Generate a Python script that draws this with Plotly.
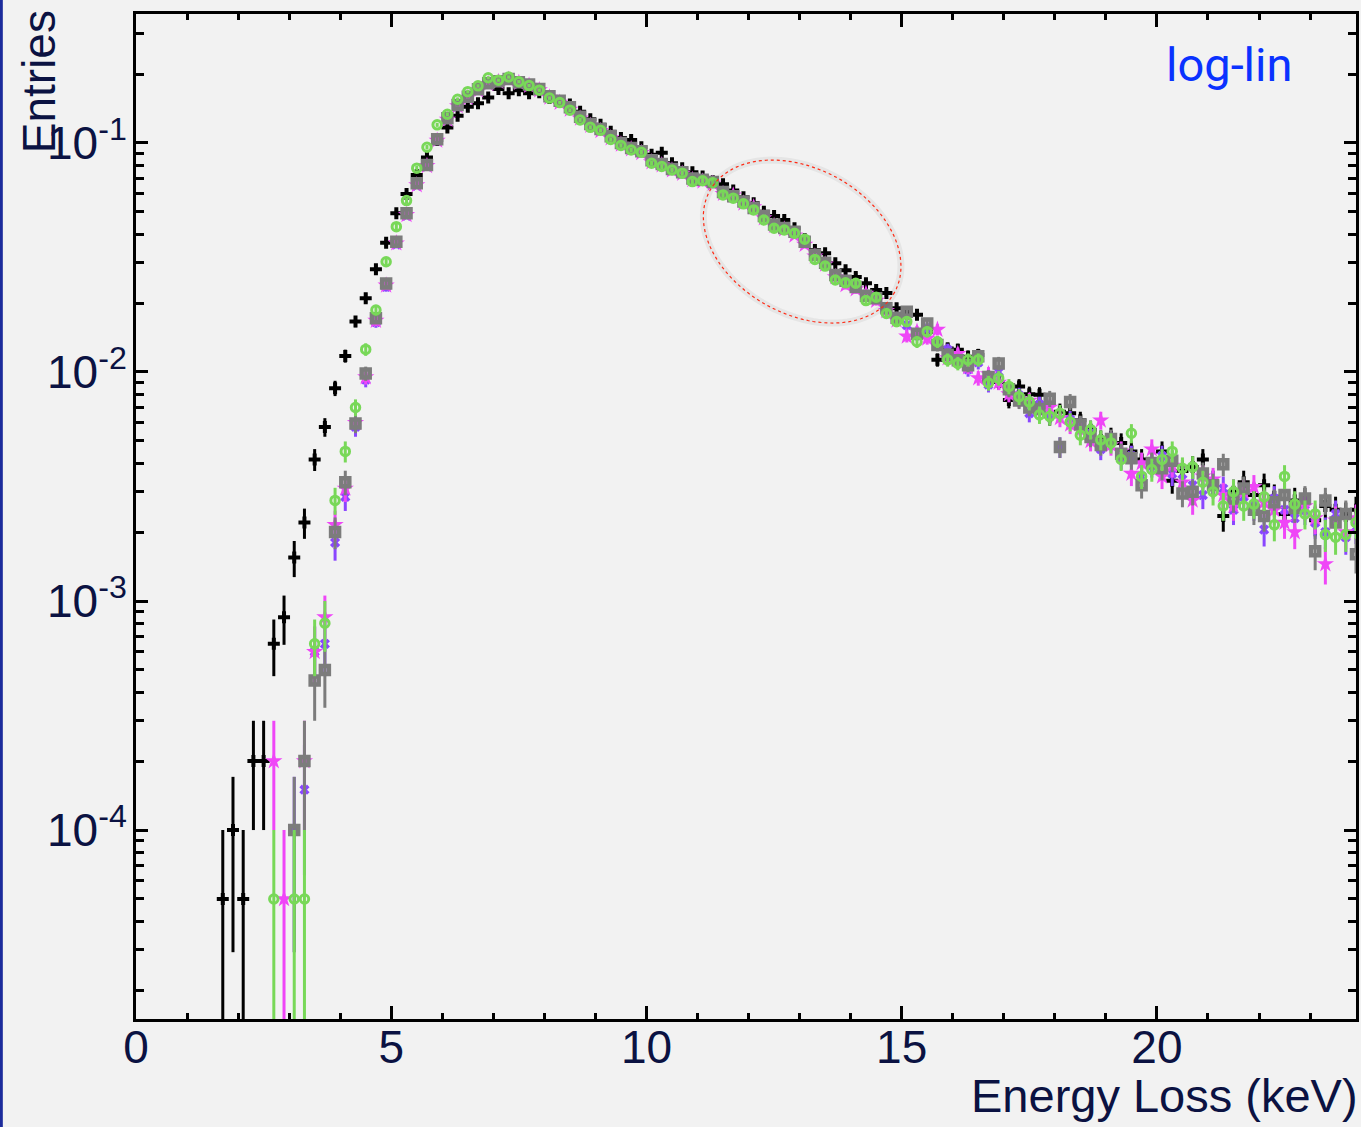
import numpy as np
import plotly.graph_objects as go

# ---------------------------------------------------------------------------
# Energy-loss spectra: 0.2 keV bins, bin centres 1.7 ... 23.9 keV
# counts per bin; one entry corresponds to a normalised weight of 5e-5
# ---------------------------------------------------------------------------
energy = np.round(np.arange(1.7, 24.0, 0.2), 2)
entry_weight = 5e-5

counts_black = [
    1, 2, 1, 4, 4,
    13, 17, 31, 44, 83,
    115, 170, 235, 332, 420,
    562, 734, 986, 1196, 1450,
    1728, 2060, 2334, 2630, 2880,
    2980, 3160, 3440, 3300, 3400,
    3300, 3330, 3140, 3020, 2940,
    2740, 2540, 2400, 2240, 2100,
    2060, 1916, 1774, 1814, 1630,
    1552, 1490, 1426, 1360, 1320,
    1240, 1160, 1090, 1002, 960,
    922, 848, 760, 682, 660,
    596, 556, 520, 488, 456,
    442, 380, 360, 356, 300,
    226, 253, 250, 233, 237,
    185, 181, 151, 173, 160,
    159, 128, 134, 132, 123,
    112, 101, 104, 98, 90,
    83, 80, 90, 67, 74,
    77, 83, 66, 47, 60,
    66, 58, 64, 57, 48,
    55, 55, 45, 52, 50,
    47, 50,
]

counts_purple = [
    0, 0, 0, 0, 0,
    0, 0, 2, 3, 12,
    13, 36, 57, 115, 185,
    330, 470, 720, 960, 1300,
    1580, 2040, 2520, 2880, 3160,
    3420, 3640, 3710, 3790, 3670,
    3580, 3420, 3180, 3020, 2820,
    2580, 2400, 2280, 2120, 1990,
    1890, 1820, 1660, 1610, 1530,
    1480, 1390, 1370, 1340, 1210,
    1160, 1100, 1030, 950, 870,
    845, 810, 730, 645, 595,
    525, 490, 465, 435, 415,
    375, 340, 320, 290, 310,
    270, 250, 222, 205, 220,
    176, 200, 164, 158, 132,
    144, 130, 94, 124, 116,
    108, 92, 100, 84, 86,
    70, 78, 86, 72, 68,
    64, 58, 66, 62, 50,
    57, 52, 41, 56, 50,
    46, 50, 44, 40, 48,
    38, 42,
]

counts_magenta = [
    0, 0, 0, 0, 0,
    4, 1, 0, 4, 12,
    17, 43, 62, 120, 190,
    335, 478, 730, 970, 1310,
    1590, 2050, 2530, 2900, 3150,
    3400, 3620, 3700, 3780, 3660,
    3560, 3400, 3160, 3000, 2800,
    2560, 2380, 2260, 2100, 1970,
    1880, 1810, 1650, 1600, 1520,
    1470, 1380, 1360, 1330, 1200,
    1180, 1090, 1050, 940, 870,
    840, 790, 720, 640, 590,
    520, 480, 460, 440, 410,
    370, 336, 286, 300, 280,
    306, 230, 240, 210, 188,
    196, 180, 160, 152, 150,
    136, 140, 126, 118, 112,
    100, 123, 96, 90, 72,
    80, 92, 70, 78, 66,
    55, 70, 68, 58, 52,
    60, 63, 54, 50, 44,
    40, 52, 46, 29, 45,
    40, 46,
]

counts_gray = [
    0, 0, 0, 0, 0,
    0, 0, 2, 4, 9,
    10, 40, 66, 119, 197,
    343, 487, 741, 986, 1334,
    1602, 2076, 2564, 2930, 3184,
    3430, 3646, 3720, 3800, 3680,
    3600, 3440, 3200, 3060, 2860,
    2600, 2420, 2300, 2140, 2000,
    1900, 1840, 1680, 1620, 1540,
    1490, 1400, 1380, 1350, 1220,
    1170, 1110, 1040, 960, 880,
    850, 820, 740, 650, 600,
    530, 500, 470, 430, 420,
    380, 345, 366, 294, 326,
    262, 238, 225, 214, 234,
    190, 218, 168, 150, 140,
    138, 153, 94, 148, 118,
    104, 96, 102, 88, 84,
    64, 80, 76, 82, 59,
    60, 72, 64, 79, 56,
    62, 50, 47, 54, 58,
    51, 56, 33, 55, 44,
    48, 32,
]

counts_green = [
    0, 0, 0, 0, 0,
    1, 0, 1, 1, 13,
    16, 55, 90, 140, 251,
    373, 606, 862, 1120, 1552,
    1916, 2400, 2668, 3104, 3350,
    3550, 3850, 3760, 3880, 3700,
    3560, 3400, 3140, 3000, 2780,
    2520, 2340, 2270, 2070, 1950,
    1864, 1820, 1630, 1578, 1524,
    1476, 1356, 1368, 1342, 1186,
    1148, 1084, 1020, 922, 848,
    834, 806, 760, 620, 580,
    504, 490, 488, 410, 424,
    360, 332, 332, 271, 300,
    271, 226, 218, 226, 226,
    179, 188, 173, 156, 148,
    130, 128, 132, 121, 106,
    112, 101, 98, 83, 108,
    70, 75, 83, 90, 76,
    77, 66, 60, 52, 60,
    52, 53, 57, 43, 70,
    53, 48, 48, 39, 38,
    39, 44,
]

x_tick_values = [0, 5, 10, 15, 20]
y_tick_values = [1e-4, 1e-3, 1e-2, 1e-1]
y_tick_text = ["10<sup>-4</sup>", "10<sup>-3</sup>", "10<sup>-2</sup>", "10<sup>-1</sup>"]

x_range = [0, 23.9]
y_log_range = [-4.825, -0.437]


def hist_points(counts):
    """Normalised bin contents with Poisson errors; empty bins are skipped."""
    c = np.asarray(counts, dtype=float)
    keep = c > 0
    y = c[keep] * entry_weight
    err = np.sqrt(c[keep]) * entry_weight
    # a lower error reaching zero runs off the bottom of the log axis
    err_lo = np.minimum(err, y * 0.999999)
    return energy[keep], y, err, err_lo


# drawing order: bottom to top
series = [
    (counts_black, "#000000", dict(symbol="cross", size=10, color="#000000")),
    (counts_purple, "#8a46ff", dict(symbol="x", size=9, color="#8a46ff")),
    (counts_magenta, "#ef46f7", dict(symbol="star", size=13, color="#ef46f7")),
    (counts_gray, "#7c7c7c", dict(symbol="square-open", size=8, color="#7c7c7c",
                                 line=dict(width=4.5, color="#7c7c7c"))),
    (counts_green, "#78d858", dict(symbol="circle-open", size=8.5, color="#78d858",
                                  line=dict(width=3, color="#78d858"))),
]

fig = go.Figure()
for counts, colour, marker in series:
    x, y, err, err_lo = hist_points(counts)
    fig.add_trace(go.Scatter(
        x=x, y=y, mode="markers", marker=marker,
        error_y=dict(type="data", array=err, arrayminus=err_lo, symmetric=False,
                     color=colour, thickness=3, width=0),
        hoverinfo="skip",
    ))

# ---------------------------------------------------------------------------
# highlighted region: rotated ellipse around 12-15 keV
# ---------------------------------------------------------------------------
plot_w_px, plot_h_px = 1223, 1005
ell_e, ell_logy = 13.05, np.log10(0.0371)
ell_a, ell_b, ell_tilt = 105.6, 72.8, np.radians(28.6)

t = np.linspace(0, 2 * np.pi, 121)
dx = ell_a * np.cos(ell_tilt) * np.cos(t) - ell_b * np.sin(ell_tilt) * np.sin(t)
dy_down = ell_a * np.sin(ell_tilt) * np.cos(t) + ell_b * np.cos(ell_tilt) * np.sin(t)
ex = (ell_e - x_range[0]) / (x_range[1] - x_range[0]) + dx / plot_w_px
ey = (ell_logy - y_log_range[0]) / (y_log_range[1] - y_log_range[0]) - dy_down / plot_h_px
ell_path = "M " + " L ".join(f"{a:.5f},{b:.5f}" for a, b in zip(ex, ey)) + " Z"

fig.add_shape(type="path", path=ell_path, xref="paper", yref="paper",
              line=dict(color="rgba(0,0,0,0.05)", width=7), layer="above")
fig.add_shape(type="path", path=ell_path, xref="paper", yref="paper",
              line=dict(color="#ff2a14", width=1.2, dash="dot"), layer="above")

# thin blue border at the left page edge
fig.add_shape(type="line", xref="paper", yref="paper",
              x0=-135 / plot_w_px, x1=-135 / plot_w_px, y0=-0.2, y1=1.1,
              line=dict(color="#1d2c9c", width=3))

text_colour = "#0b1242"
axis_font = "Liberation Sans, Arial, Helvetica, sans-serif"

fig.add_annotation(text="Entries", textangle=-90, showarrow=False,
                   xref="paper", yref="paper", x=-97 / plot_w_px, y=(1005 - 68) / plot_h_px,
                   xanchor="center", yanchor="middle",
                   font=dict(family=axis_font, size=46, color=text_colour))
fig.add_annotation(text="Energy Loss (keV)", showarrow=False,
                   xref="paper", yref="paper", x=1.0035, y=-76 / plot_h_px,
                   xanchor="right", yanchor="middle",
                   font=dict(family=axis_font, size=47, color=text_colour))
fig.add_annotation(text="log-lin", showarrow=False,
                   xref="paper", yref="paper", x=(1232 - 136) / plot_w_px, y=(1019 - 65) / plot_h_px,
                   xanchor="center", yanchor="middle",
                   font=dict(family="Roboto, sans-serif", size=47, color="#0a32ff"))

minor_y = [m * 10.0 ** d for d in range(-5, 0) for m in range(2, 10)]

fig.update_layout(
    width=1361, height=1127,
    margin=dict(l=136, r=2, t=14, b=108),
    paper_bgcolor="#f2f2f2", plot_bgcolor="#f2f2f2",
    showlegend=False,
    font=dict(family=axis_font, size=46, color=text_colour),
)
fig.update_xaxes(
    range=x_range, showgrid=False, zeroline=False,
    showline=True, linecolor="black", linewidth=3, mirror="allticks",
    ticks="inside", ticklen=13, tickwidth=2.5, tickcolor="black",
    tickvals=x_tick_values, ticktext=[str(v) for v in x_tick_values],
    ticklabelstandoff=-14,
    tickfont=dict(family=axis_font, size=46, color=text_colour),
    minor=dict(ticks="inside", dtick=1, tick0=0, ticklen=6, tickwidth=2.5,
               tickcolor="black", showgrid=False),
)
fig.update_yaxes(
    type="log", range=y_log_range, showgrid=False, zeroline=False,
    showline=True, linecolor="black", linewidth=3, mirror="allticks",
    ticks="inside", ticklen=12, tickwidth=2.5, tickcolor="black",
    tickvals=y_tick_values, ticktext=y_tick_text,
    ticklabelstandoff=-3,
    tickfont=dict(family=axis_font, size=46, color=text_colour),
    minor=dict(ticks="inside", tickvals=minor_y, ticklen=8, tickwidth=2.5,
               tickcolor="black", showgrid=False),
)

fig.write_html("out.html")
